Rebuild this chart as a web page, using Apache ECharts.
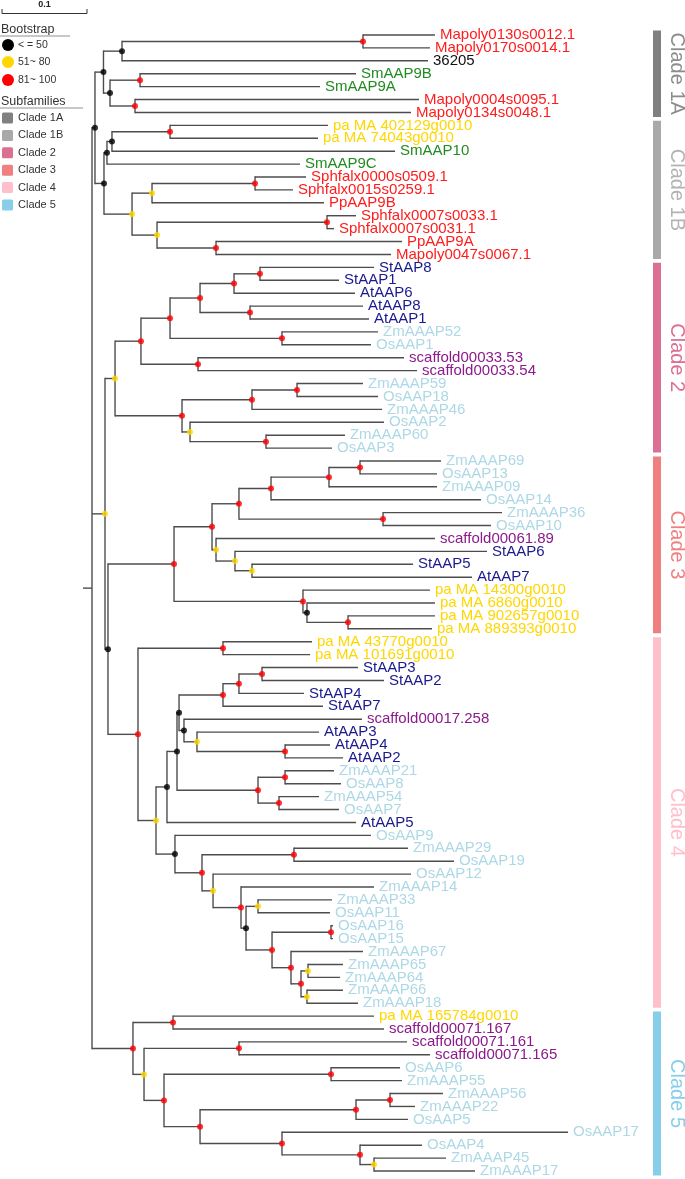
<!DOCTYPE html>
<html><head><meta charset="utf-8">
<script src="https://cdn.jsdelivr.net/npm/echarts@6/dist/echarts.min.js"></script>
<style>html,body{margin:0;padding:0;background:#fff}#c{width:685px;height:1179px}</style>
</head><body><div id="c"></div>
<script>
// ---------------- DATA ----------------
const leafNames = ['Mapoly0130s0012.1','Mapoly0170s0014.1','36205','SmAAP9B','SmAAP9A','Mapoly0004s0095.1','Mapoly0134s0048.1',
 'pa MA 402129g0010','pa MA 74043g0010','SmAAP10','SmAAP9C','Sphfalx0000s0509.1','Sphfalx0015s0259.1','PpAAP9B',
 'Sphfalx0007s0033.1','Sphfalx0007s0031.1','PpAAP9A','Mapoly0047s0067.1',
 'StAAP8','StAAP1','AtAAP6','AtAAP8','AtAAP1','ZmAAAP52','OsAAP1','scaffold00033.53','scaffold00033.54',
 'ZmAAAP59','OsAAP18','ZmAAAP46','OsAAP2','ZmAAAP60','OsAAP3',
 'ZmAAAP69','OsAAP13','ZmAAAP09','OsAAP14','ZmAAAP36','OsAAP10','scaffold00061.89','StAAP6','StAAP5','AtAAP7',
 'pa MA 14300g0010','pa MA 6860g0010','pa MA 902657g0010','pa MA 889393g0010',
 'pa MA 43770g0010','pa MA 101691g0010','StAAP3','StAAP2','StAAP4','StAAP7','scaffold00017.258','AtAAP3','AtAAP4','AtAAP2',
 'ZmAAAP21','OsAAP8','ZmAAAP54','OsAAP7','AtAAP5','OsAAP9','ZmAAAP29','OsAAP19','OsAAP12','ZmAAAP14','ZmAAAP33','OsAAP11',
 'OsAAP16','OsAAP15','ZmAAAP67','ZmAAAP65','ZmAAAP64','ZmAAAP66','ZmAAAP18',
 'pa MA 165784g0010','scaffold00071.167','scaffold00071.161','scaffold00071.165','OsAAP6','ZmAAAP55','ZmAAAP56','ZmAAAP22',
 'OsAAP5','OsAAP17','OsAAP4','ZmAAAP45','ZmAAAP17'];
const leafParents = ['A','A','B','C','C','E','E','I','I','J','K','M','M','N','P','P','Q','Q',
 'AD','AD','AB','AC','AC','AA','AA','Y','Y','AG','AG','AE','AF','AH','AH',
 'AP','AP','AO','AM','AN','AN','AL','AQ','AR','AR','AJ','AS','AT','AT',
 'AU','AU','BE','BE','BD','BB','BC','BF','BG','BG','BH','BH','BI','BI','AW','AX','BK','BK','BL','BM','BN','BN',
 'BQ','BQ','BR','BT','BT','BU','BU',
 'BV','BV','BX','BX','BZ','BZ','CD','CD','CB','CC','CE','CF','CF'];
const leafDepths = [0.4035,0.3976,0.3953,0.3106,0.2682,0.3847,0.3753,0.2776,0.2659,0.3565,0.2447,0.2518,0.2365,0.2729,
 0.3106,0.2847,0.3647,0.3518,
 0.3318,0.2906,0.3094,0.3188,0.3259,0.3365,0.3282,0.3671,0.3824,0.3188,0.3365,0.3412,0.3435,0.2976,0.2824,
 0.4106,0.4059,0.4059,0.4576,0.4824,0.4694,0.4035,0.4647,0.3776,0.4471,0.3976,0.4035,0.4035,0.4000,
 0.2588,0.2565,0.3129,0.3435,0.2494,0.2718,0.3176,0.2671,0.2800,0.2953,0.2847,0.2929,0.2671,0.2906,0.3106,0.3282,
 0.3718,0.4259,0.3753,0.3318,0.2824,0.2800,0.2835,0.2835,0.3188,0.2953,0.2918,0.2953,0.3129,
 0.3318,0.3435,0.3706,0.3976,0.3624,0.3647,0.4129,0.3800,0.3718,0.5600,0.3882,0.4165,0.4506];

const nodeIds = ['root','G','F','B','A','D','C','E','H','K','J','I','L','N','M','O','P','Q',
 'R','S','V','X','Z','AB','AD','AC','AA','Y','W','AE','AG','AF','AH',
 'T','C3','AI','AK','AM','AO','AP','AN','AL','AQ','AR','AJ','AS','AT',
 'C4','AU','AV','AW','AY','AZ','BB','BD','BE','BC','BF','BG','BA','BH','BI','AX','BJ','BK','BL','BM','BO','BN','BP','BQ','BR','BS','BT','BU',
 'U','BV','BW','BX','BY','BZ','CA','CB','CD','CC','CE','CF'];
const nodeParents = [null,'root','G','F','B','F','D','D','G','H','K','J','H','L','N','L','O','O',
 'root','R','S','V','X','Z','AB','Z','X','V','S','W','AE','W','AF',
 'R','T','C3','AI','AK','AM','AO','AK','AI','AL','AQ','C3','AJ','AS',
 'T','C4','C4','AV','AW','AY','AZ','BB','BD','AZ','BC','BF','AY','BA','BA','AV','AX','BJ','BJ','BL','BM','BO','BO','BP','BP','BR','BS','BS',
 'root','U','U','BW','BW','BY','BY','CA','CB','CA','CC','CE'];
const nodeDepths = [0,0.0035,0.0135,0.0353,0.3188,0.0212,0.0565,0.0506,0.0141,0.0176,0.0235,0.0918,0.0471,0.0706,0.1918,0.0765,0.2765,0.1459,
 0.0153,0.0271,0.0576,0.0918,0.1271,0.1671,0.1976,0.1859,0.2235,0.1247,0.1059,0.1882,0.2412,0.1153,0.2047,
 0.0188,0.0965,0.1412,0.1729,0.2106,0.2788,0.3153,0.3424,0.1459,0.1682,0.1882,0.2482,0.2529,0.3012,
 0.0541,0.1541,0.0753,0.0882,0.1000,0.1024,0.1541,0.1729,0.2000,0.1082,0.1235,0.2271,0.1953,0.2271,0.2200,0.0976,0.1294,0.2376,0.1424,0.1753,0.1812,0.1953,0.2118,0.2812,0.2341,0.2459,0.2541,0.2529,
 0.0482,0.0953,0.0612,0.1729,0.0847,0.2812,0.1271,0.3106,0.3506,0.2235,0.3153,0.3318];
// bootstrap class: 0 = <=50, 1 = 51~80, 2 = 81~100, -1 = none
const nodeSupport = [-1,0,0,0,2,0,2,2,0,0,0,2,1,1,2,1,2,2,
 1,1,2,2,2,2,2,2,2,2,2,2,2,1,2,
 0,2,2,2,2,2,2,2,1,1,1,2,0,2,
 2,2,1,0,0,0,2,2,2,0,1,2,2,2,2,0,2,2,1,2,0,1,2,2,2,2,1,1,
 2,2,1,2,2,2,2,2,2,2,2,1];

const supportLabels = ['< = 50','51~ 80','81~ 100'];
const cladeNames = ['Clade 1A','Clade 1B','Clade 2','Clade 3','Clade 4','Clade 5'];
const cladeFirstLeaf = ['Mapoly0130s0012.1','pa MA 402129g0010','StAAP8','ZmAAAP69','pa MA 43770g0010','pa MA 165784g0010'];
const cladeLastLeaf = ['Mapoly0134s0048.1','Mapoly0047s0067.1','OsAAP3','pa MA 889393g0010','ZmAAAP18','ZmAAAP17'];
const scaleBarValue = 0.1;

// ---------------- STYLE ----------------
const supportColors = ['#000000','#ffd700','#ff0000'];
const cladeColors = ['#808080','#a9a9a9','#db7093','#f08080','#ffc0cb','#87ceeb'];
const cladeTextColors = ['#8c8c8c','#b4b4b4','#db7093','#f08080','#ffc0cb','#87ceeb'];
const FONT = '"Liberation Sans", Arial, sans-serif';
const LINE = '#4d4d4d';
function leafColor(n){
  if (/^(Mapoly|Sphfalx|Pp)/.test(n)) return '#ff1c1c';
  if (/^Sm/.test(n)) return '#228b22';
  if (/^pa MA/.test(n)) return '#ffd700';
  if (/^(St|At)/.test(n)) return '#1a1a8c';
  if (/^(Zm|Os)/.test(n)) return '#add8e6';
  if (/^scaffold/.test(n)) return '#8b1a8b';
  return '#111111';
}

// ---------------- TREE LAYOUT ----------------
const depthOf = {}; nodeIds.forEach((id,i)=>depthOf[id]=nodeDepths[i]);
const childY = {}; nodeIds.forEach(id=>childY[id]=[]);
const nodeY = {};
leafNames.forEach((n,i)=>childY[leafParents[i]].push(i));
function getY(id){
  if (nodeY[id]!==undefined) return nodeY[id];
  const ys = childY[id].slice();
  nodeIds.forEach((c,j)=>{ if (nodeParents[j]===id) ys.push(getY(c)); });
  nodeY[id] = (Math.min(...ys)+Math.max(...ys))/2;
  return nodeY[id];
}
nodeIds.forEach(getY);
const horiz = [], vert = [], dots = [], tips = [];
leafNames.forEach((n,i)=>{ horiz.push([depthOf[leafParents[i]], leafDepths[i], i]); tips.push([leafDepths[i], i, i]); });
nodeIds.forEach((id,j)=>{
  const ys = childY[id].slice();
  nodeIds.forEach((c,k)=>{ if (nodeParents[k]===id) ys.push(nodeY[c]); });
  vert.push([nodeDepths[j], Math.min(...ys), Math.max(...ys)]);
  if (nodeParents[j]) horiz.push([depthOf[nodeParents[j]], nodeDepths[j], nodeY[id]]);
  else horiz.push([-0.0106, 0, nodeY[id]]);
  if (nodeSupport[j]>=0) dots.push({value:[nodeDepths[j], nodeY[id]], itemStyle:{color:supportColors[nodeSupport[j]]}});
});
const cladeData = cladeNames.map((c,i)=>[leafNames.indexOf(cladeFirstLeaf[i])-0.35, leafNames.indexOf(cladeLastLeaf[i])+0.35, i]);

// ---------------- CHART ----------------
const chart = echarts.init(document.getElementById('c'), null, {renderer:'canvas'});
const option = {
  animation:false,
  backgroundColor:'#ffffff',
  grid:{left:92, right:83, top:35, bottom:8},
  xAxis:{type:'value', min:0, max:0.6, show:false},
  yAxis:{type:'value', min:0, max:leafNames.length-1, inverse:true, show:false},
  series:[
    {type:'custom', name:'h', data:horiz, clip:false, silent:true,
      renderItem:(p,api)=>{const a=api.coord([api.value(0),api.value(2)]),b=api.coord([api.value(1),api.value(2)]);
        return {type:'line',shape:{x1:a[0],y1:a[1],x2:b[0],y2:b[1]},style:{stroke:LINE,lineWidth:1.4}};}},
    {type:'custom', name:'v', data:vert, clip:false, silent:true,
      renderItem:(p,api)=>{const a=api.coord([api.value(0),api.value(1)]),b=api.coord([api.value(0),api.value(2)]);
        return {type:'line',shape:{x1:a[0],y1:a[1]-0.7,x2:b[0],y2:b[1]+0.7},style:{stroke:LINE,lineWidth:1.4}};}},
    {type:'scatter', name:'support', data:dots, symbol:'circle', symbolSize:6, clip:false, silent:true, z:5},
    {type:'custom', name:'tips', data:tips, clip:false, silent:true, z:6,
      renderItem:(p,api)=>{const a=api.coord([api.value(0),api.value(1)]); const n=leafNames[api.value(2)];
        return {type:'text',x:a[0]+5,y:a[1],style:{text:n,fill:leafColor(n),font:'15px '+FONT,align:'left',verticalAlign:'middle'}};}},
    {type:'custom', name:'clades', data:cladeData, clip:false, silent:true,
      renderItem:(p,api)=>{const a=api.coord([0,api.value(0)]),b=api.coord([0,api.value(1)]); const i=api.value(2);
        return {type:'group',children:[
          {type:'rect',shape:{x:653,y:a[1],width:8,height:b[1]-a[1]},style:{fill:cladeColors[i]}},
          {type:'text',x:677,y:(a[1]+b[1])/2,rotation:-Math.PI/2,style:{text:cladeNames[i],fill:cladeTextColors[i],font:'20px '+FONT,align:'center',verticalAlign:'middle'}}
        ]};}}
  ]
};
chart.setOption(option);

// legend & scale bar
const px0 = chart.convertToPixel({gridIndex:0},[0,0])[0];
const px1 = chart.convertToPixel({gridIndex:0},[scaleBarValue,0])[0];
const L = px1-px0;
const g = [];
g.push({type:'text',x:2+L/2,y:5,style:{text:String(scaleBarValue),font:'bold 9px '+FONT,fill:'#222',align:'center',verticalAlign:'middle'}});
g.push({type:'polyline',shape:{points:[[2,9],[2,13.5],[2+L,13.5],[2+L,9]]},style:{stroke:'#333',lineWidth:1,fill:null}});
g.push({type:'text',x:1,y:30,style:{text:'Bootstrap',font:'12.5px '+FONT,fill:'#333',verticalAlign:'middle'}});
g.push({type:'line',shape:{x1:0,y1:36,x2:70,y2:36},style:{stroke:'#c8c8c8',lineWidth:2}});
supportLabels.forEach((t,i)=>{
  const cy=[45,62,80][i];
  g.push({type:'circle',shape:{cx:8,cy:cy,r:6},style:{fill:supportColors[i]}});
  g.push({type:'text',x:18,y:cy,style:{text:t,font:'10.5px '+FONT,fill:'#333',verticalAlign:'middle'}});
});
g.push({type:'text',x:1,y:102,style:{text:'Subfamilies',font:'12.5px '+FONT,fill:'#333',verticalAlign:'middle'}});
g.push({type:'line',shape:{x1:0,y1:108,x2:83,y2:108},style:{stroke:'#c8c8c8',lineWidth:2}});
cladeNames.forEach((c,i)=>{
  const cy=118+i*17.4;
  g.push({type:'rect',shape:{x:2,y:cy-5.5,width:11,height:11,r:1.5},style:{fill:cladeColors[i]}});
  g.push({type:'text',x:18,y:cy,style:{text:c,font:'11px '+FONT,fill:'#333',verticalAlign:'middle'}});
});
chart.setOption({graphic:{elements:g.map(e=>Object.assign({silent:true},e))}});
</script></body></html>
